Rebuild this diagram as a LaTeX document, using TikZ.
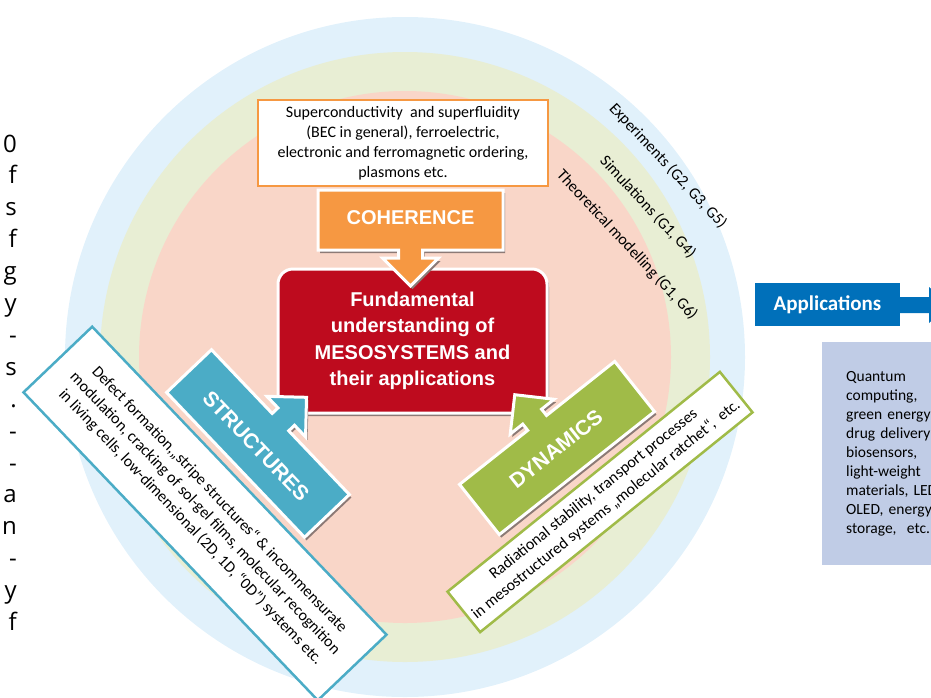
\documentclass[tikz,border=0pt]{standalone}
\usepackage{fontspec}
\setmainfont{Carlito}
\newfontfamily\headfont{Liberation Sans}
\newfontfamily\marginfont{Open Sans}
\usetikzlibrary{shadows}

\definecolor{ringblue}{RGB}{225,241,251}
\definecolor{ringgreen}{RGB}{232,238,212}
\definecolor{ringpink}{RGB}{249,214,200}
\definecolor{corered}{RGB}{190,11,30}
\definecolor{cohc}{RGB}{246,152,66}
\definecolor{structc}{RGB}{75,172,198}
\definecolor{dync}{RGB}{160,187,72}
\definecolor{appc}{RGB}{0,112,186}
\definecolor{usesc}{RGB}{192,204,230}
\definecolor{shadowc}{RGB}{140,122,118}

% block arrow: body W x H, small head on the upper side
\newcommand{\blockarrow}[2]{({-#1/2},{-#2/2}) -- (-12,{-#2/2}) -- (-12,{-#2/2-8}) -- (-28,{-#2/2-8}) -- (0,{-#2/2-36}) -- (28,{-#2/2-8}) -- (12,{-#2/2-8}) -- (12,{-#2/2}) -- ({#1/2},{-#2/2}) -- ({#1/2},{#2/2}) -- ({-#1/2},{#2/2}) -- cycle}

\tikzset{
  arrowbody/.style={draw=white, line width=3pt},
  dropgray/.style={fill=shadowc},
  headtext/.style={text=white, font=\headfont\bfseries\fontsize{21}{26}\selectfont},
  infobox/.style={fill=white, line width=2.5pt, align=center, inner sep=0pt,
    font=\fontsize{16}{20}\selectfont},
  ringlabel/.style={font=\fontsize{16}{19}\selectfont, inner sep=0pt},
  marginchar/.style={font=\marginfont\fontsize{24}{28}\selectfont, inner sep=0pt, anchor=base east}
}

\begin{document}
\begin{tikzpicture}[x=1pt, y=-1pt]
\clip (0,0) rectangle (931,697);

% rings
\fill[ringblue] (405,357) circle [radius=340pt];
\fill[ringgreen] (405,357) circle [radius=305pt];
\fill[ringpink] (405,357) circle [radius=266pt];

\node[ringlabel, rotate=-47] (expt) at (668,166) {Experiments (G2, G3, G5)};
\node[ringlabel, rotate=-47] (simu) at (648,207) {Simulations (G1, G4)};
\node[ringlabel, rotate=-47] (theo) at (627,245) {Theoretical modelling (G1, G6)};

% margin text of the page
\foreach \ch [count=\i from 0] in {0,f,s,f,g,y,-,s,.,-,-,a,n,-,y,f}
  \node[marginchar] (m\i) at (17,{152+31.9*\i}) {\ch};

% coherence
\node[infobox, draw=cohc, minimum width=290pt, minimum height=86pt] (cohtext) at (403,143)
  {Superconductivity\ \ and superfluidity\\(BEC in general), ferroelectric,\\electronic and ferromagnetic ordering,\\plasmons etc.};

\node[fill=corered, draw=white, line width=3pt, rounded corners=15pt,
  minimum width=269pt, minimum height=144pt, align=center,
  drop shadow={shadow xshift=2pt, shadow yshift=-3pt, fill=shadowc, opacity=1},
  headtext, font=\headfont\bfseries\fontsize{20}{26.5}\selectfont] (core) at (412.5,341)
  {Fundamental\\understanding of\\MESOSYSTEMS and\\their applications};

\fill[dropgray, shift={(412.5,223)}, rotate=180] \blockarrow{185}{60};
\filldraw[arrowbody, fill=cohc, shift={(410.5,220)}, rotate=180] \blockarrow{185}{60};
\node[headtext, font=\headfont\bfseries\fontsize{20}{24}\selectfont] (coh) at (410.5,218) {COHERENCE};

% structures
\node[infobox, draw=structc, rotate=-46.3, minimum width=426pt, minimum height=95pt] (structtext) at (205,513.5)
  {Defect formation,„stripe structures“ \& incommensurate\\modulation, cracking of sol-gel films, molecular recognition\\in living cells, low-dimensional (2D, 1D, “0D”) systems etc.};

\fill[dropgray, shift={(260,446.5)}, rotate=-46.4] \blockarrow{200}{62};
\filldraw[arrowbody, fill=structc, shift={(258,443.5)}, rotate=-46.4] \blockarrow{200}{62};
\node[headtext, rotate=-46.4] (struct) at (256,446) {STRUCTURES};

% dynamics
\node[infobox, draw=dync, rotate=38.9, minimum width=350pt, minimum height=52pt] (dyntext) at (600,502)
  {Radiational stability, transport processes\\in mesostructured systems „molecular ratchet“,\ \ etc.};

\fill[dropgray, shift={(559,451)}, rotate=38.4] \blockarrow{198}{64};
\filldraw[arrowbody, fill=dync, shift={(557,448)}, rotate=38.4] \blockarrow{198}{64};
\node[headtext, rotate=38.4] (dyn) at (556,449) {DYNAMICS};

% applications
\node[fill=appc, text=white, minimum width=145pt, minimum height=43pt, inner sep=0pt,
  font=\bfseries\fontsize{21}{24}\selectfont] (apps) at (827.5,304.5) {Applications};
\fill[appc] (900,297) -- (929,297) -- (929,287) -- (950,305) -- (929,323) -- (929,313) -- (900,313) -- cycle;

\node[fill=usesc, anchor=north west, minimum height=223pt, text width=140pt,
  inner xsep=24pt, inner ysep=0pt, align=left, font=\fontsize{15.5}{19}\selectfont] (uses) at (822,342)
  {Quantum\\computing,\\green energy\\drug delivery\\biosensors,\\light-weight\\materials, LED\\OLED, energy\\storage,\ \ etc.};
\end{tikzpicture}
\end{document}
